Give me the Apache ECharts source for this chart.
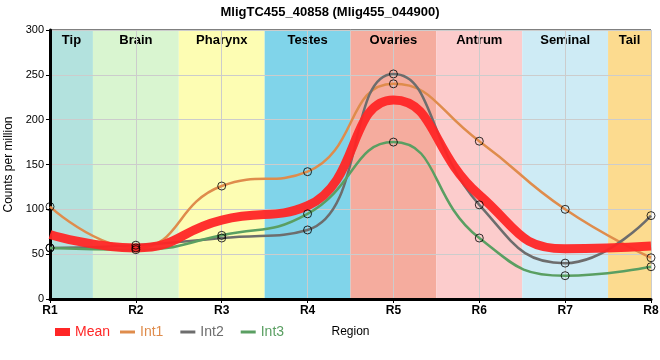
<!DOCTYPE html>
<html><head><meta charset="utf-8">
<script src="https://cdn.jsdelivr.net/npm/echarts@6/dist/echarts.min.js"></script>
<style>html,body{margin:0;padding:0;background:#fff}#c{width:660px;height:360px}</style>
</head><body><div id="c"></div>
<script>
var regions = ['R1','R2','R3','R4','R5','R6','R7','R8'];
var meanVals = [72, 57, 88, 104, 222, 116, 56, 59];
var int1Vals = [103, 57, 126, 142, 240, 176, 100, 46];
var int2Vals = [57, 60, 68, 77, 251, 105, 40, 93];
var int3Vals = [57, 55, 71, 95, 175, 68, 26, 36];
var bandNames = ['Tip','Brain','Pharynx','Testes','Ovaries','Antrum','Seminal','Tail'];
var bandStarts = [1, 1.5, 2.5, 3.5, 4.5, 5.5, 6.5, 7.5];
var bandEnds = [1.5, 2.5, 3.5, 4.5, 5.5, 6.5, 7.5, 8];
var bandColors = ['#b3e2de','#d9f5d0','#fdfdb3','#80d4ea','#f5ac9e','#fccccc','#ceebf5','#fcdb8f'];
var yTicks = [0, 50, 100, 150, 200, 250, 300];

function pts(v){ return v.map(function(y,i){ return [i+1, y]; }); }
var font = 'Liberation Sans, Arial, sans-serif';

var bands = bandNames.map(function(n,i){
  return [{name:n, xAxis:bandStarts[i], itemStyle:{color:bandColors[i], opacity:1}}, {xAxis:bandEnds[i]}];
});

function intSeries(name, vals, color){
  return {
    name:name, type:'line', data:pts(vals), smooth:0.5, z:3,
    symbol:'none', color:color,
    lineStyle:{color:color, width:2.5}
  };
}
function dots(vals){
  return {
    type:'scatter', data:pts(vals), symbol:'circle', symbolSize:8, z:5,
    itemStyle:{color:'rgba(0,0,0,0)', borderColor:'#000', borderWidth:1}, silent:true
  };
}

var chart = echarts.init(document.getElementById('c'));
chart.setOption({
  animation:false,
  textStyle:{fontFamily:font},
  title:{text:'MligTC455_40858 (Mlig455_044900)', left:'center', top:1,
    textStyle:{fontSize:13, fontWeight:'bold', color:'#000', fontFamily:font}},
  grid:{left:50, right:9, top:30, bottom:61, outerBoundsMode:'none', containLabel:false,
    show:true, borderColor:'#000', borderWidth:1, backgroundColor:'transparent'},
  legend:[
    {left:55, top:325, padding:0, itemWidth:15, itemHeight:8, itemGap:12, icon:'rect', textStyle:{fontSize:14, color:'inherit', fontFamily:font},
      data:['Mean']},
    {left:120, top:325, padding:0, itemWidth:15, itemHeight:3, itemGap:17, icon:'rect', textStyle:{fontSize:14, color:'inherit', fontFamily:font},
      data:['Int1','Int2','Int3']}
  ],
  xAxis:{type:'value', min:1, max:8, interval:1, z:1,
    name:'Region', nameLocation:'middle', nameGap:27,
    nameTextStyle:{fontSize:12, color:'#000', fontFamily:font},
    axisLine:{lineStyle:{color:'#000', width:3}},
    axisTick:{show:true, length:4, lineStyle:{color:'#000'}},
    axisLabel:{fontSize:12, fontWeight:'bold', color:'#000', margin:6,
      formatter:function(v){ return regions[Math.round(v)-1] || ''; }},
    splitLine:{show:true, lineStyle:{color:'#cccccc', width:1}}},
  yAxis:{type:'value', min:yTicks[0], max:yTicks[yTicks.length-1], interval:50, z:1,
    name:'Counts per million', nameLocation:'middle', nameGap:31,
    nameTextStyle:{fontSize:12, color:'#000', fontFamily:font},
    axisLine:{show:true, lineStyle:{color:'#000', width:3}},
    axisTick:{show:true, length:4, lineStyle:{color:'#000'}},
    axisLabel:{fontSize:11, color:'#000', margin:6},
    splitLine:{show:true, lineStyle:{color:'#cccccc', width:1}}},
  series:[
    {type:'line', data:[], z:0, silent:true,
      markArea:{silent:true, z:0,
        label:{show:true, position:'insideTop', distance:4, color:'#000', fontSize:13, fontWeight:'bold', fontFamily:font},
        data:bands}},
    {name:'Mean', type:'line', data:pts(meanVals), smooth:0.5, z:4, symbol:'none',
      color:'#ff2626', lineStyle:{color:'#ff2626', width:9, opacity:0.95}},
    intSeries('Int1', int1Vals, '#df8c4c'),
    intSeries('Int2', int2Vals, '#6d6d6d'),
    intSeries('Int3', int3Vals, '#5a9f62'),
    dots(int1Vals), dots(int2Vals), dots(int3Vals)
  ]
});
</script></body></html>
